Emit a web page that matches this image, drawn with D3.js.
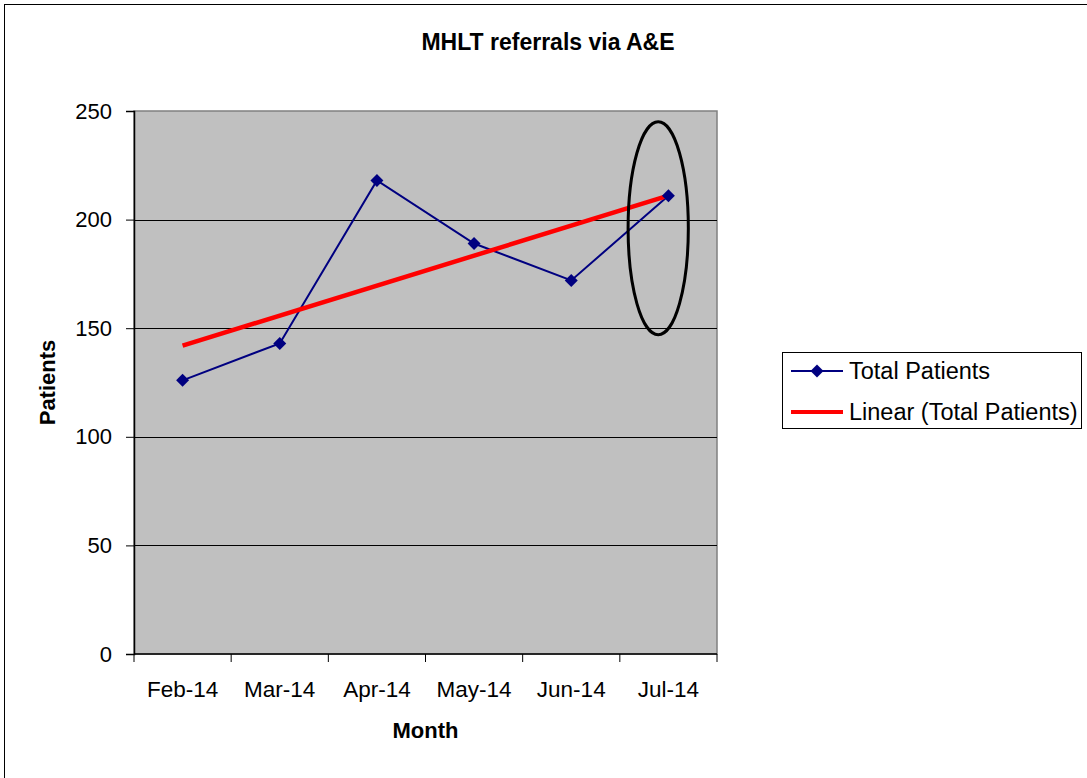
<!DOCTYPE html>
<html>
<head>
<meta charset="utf-8">
<script src="https://cdn.jsdelivr.net/npm/d3@7"></script>
<style>
  html, body { margin: 0; padding: 0; background: #fff; }
  svg { display: block; font-family: "Liberation Sans", Arial, sans-serif; }
</style>
</head>
<body>
<svg id="chart" width="1087" height="778"></svg>
<script>
const months = ["Feb-14", "Mar-14", "Apr-14", "May-14", "Jun-14", "Jul-14"];
const totalPatients = [126, 143, 218, 189, 172, 211];
const yTicks = [0, 50, 100, 150, 200, 250];
const titleText = "MHLT referrals via A&E";
const xTitle = "Month";
const yTitle = "Patients";
const legendLabels = ["Total Patients", "Linear (Total Patients)"];
// highlighted region (data units): month, centre value, half-height in patients
const highlight = { month: "Jul-14", value: 196, half: 49 };

const svg = d3.select("#chart");
const plot = { left: 134, right: 717, top: 111, bottom: 654 };

// outer chart frame
svg.append("rect").attr("x", 4.5).attr("y", 4.5).attr("width", 1090).attr("height", 780)
  .attr("fill", "#fff").attr("stroke", "#000").attr("stroke-width", 1);

const x = d3.scaleBand().domain(months).range([plot.left, plot.right]).padding(0);
const y = d3.scaleLinear().domain([0, 250]).range([plot.bottom, plot.top]);

// plot area
svg.append("rect").attr("x", plot.left).attr("y", plot.top)
  .attr("width", plot.right - plot.left).attr("height", plot.bottom - plot.top)
  .attr("fill", "#C0C0C0").attr("stroke", "#808080").attr("stroke-width", 1.5);

// gridlines
svg.append("g").selectAll("line").data(yTicks.filter(d => d > 0 && d < 250)).join("line")
  .attr("x1", plot.left).attr("x2", plot.right)
  .attr("y1", d => Math.round(y(d)) + 0.5).attr("y2", d => Math.round(y(d)) + 0.5)
  .attr("stroke", "#000").attr("stroke-width", 1);

// y axis
const yAxis = d3.axisLeft(y).tickValues(yTicks).tickSize(8).tickPadding(14);
const gy = svg.append("g").attr("transform", `translate(${plot.left},0)`).call(yAxis);
gy.select(".domain").attr("stroke", "#000").attr("stroke-width", 1.5);
gy.selectAll(".tick line").attr("stroke", "#000");
gy.selectAll(".tick text").attr("font-size", 22).attr("fill", "#000")
  .attr("font-family", "Liberation Sans, Arial, sans-serif");

// x axis: ticks at band boundaries, labels at band centres
const gx = svg.append("g").attr("transform", `translate(0,${plot.bottom})`);
gx.append("line").attr("x1", plot.left).attr("x2", plot.right).attr("y1", 0).attr("y2", 0)
  .attr("stroke", "#000").attr("stroke-width", 1.5);
const bounds = months.map(m => x(m)).concat([x(months[months.length - 1]) + x.bandwidth()]);
gx.selectAll("line.tk").data(bounds).join("line").attr("class", "tk")
  .attr("x1", d => d).attr("x2", d => d).attr("y1", 0).attr("y2", 8)
  .attr("stroke", "#000").attr("stroke-width", 1);
gx.selectAll("text").data(months).join("text")
  .attr("x", d => x(d) + x.bandwidth() / 2).attr("y", 43)
  .attr("text-anchor", "middle").attr("font-size", 22.5).attr("fill", "#000")
  .text(d => d);

const cx = d => x(d) + x.bandwidth() / 2;

// linear trendline (least squares on series)
const n = totalPatients.length;
const xs = d3.range(1, n + 1);
const mx = d3.mean(xs), my = d3.mean(totalPatients);
const slope = d3.sum(xs, (v, i) => (v - mx) * (totalPatients[i] - my)) / d3.sum(xs, v => (v - mx) ** 2);
const intercept = my - slope * mx;
const trend = months.map((m, i) => ({ m, v: intercept + slope * (i + 1) }));
const trendEnds = [trend[0], trend[n - 1]];

// series line
const line = d3.line().x(d => cx(d.m)).y(d => y(d.v));
const series = months.map((m, i) => ({ m, v: totalPatients[i] }));
svg.append("path").datum(series).attr("d", line)
  .attr("fill", "none").attr("stroke", "#000080").attr("stroke-width", 2);

// trend line
svg.append("path").datum(trendEnds).attr("d", line)
  .attr("fill", "none").attr("stroke", "#FF0000").attr("stroke-width", 4.5);

// markers
const diamond = d3.symbol().type(d3.symbolSquare).size(84);
svg.append("g").selectAll("path").data(series).join("path")
  .attr("d", diamond)
  .attr("transform", d => `translate(${cx(d.m)},${y(d.v)}) rotate(45)`)
  .attr("fill", "#000080");

// highlight ellipse
svg.append("ellipse")
  .attr("cx", cx(highlight.month) - 0.105 * x.step())
  .attr("cy", y(highlight.value))
  .attr("rx", 0.31 * x.step())
  .attr("ry", y(highlight.value - highlight.half) - y(highlight.value))
  .attr("fill", "none").attr("stroke", "#000").attr("stroke-width", 3);

// titles
svg.append("text").attr("x", 548).attr("y", 50).attr("text-anchor", "middle")
  .attr("font-size", 23).attr("font-weight", "bold").text(titleText);
svg.append("text").attr("x", (plot.left + plot.right) / 2).attr("y", 738).attr("text-anchor", "middle")
  .attr("font-size", 22).attr("font-weight", "bold").text(xTitle);
svg.append("text").attr("transform", `translate(55,${(plot.top + plot.bottom) / 2}) rotate(-90)`)
  .attr("text-anchor", "middle").attr("font-size", 22).attr("font-weight", "bold").text(yTitle);

// legend
const lg = svg.append("g");
lg.append("rect").attr("x", 782.5).attr("y", 352.5).attr("width", 299).attr("height", 76)
  .attr("fill", "#fff").attr("stroke", "#000").attr("stroke-width", 1);
const rows = [371, 412];
lg.append("line").attr("x1", 791).attr("x2", 843).attr("y1", rows[0]).attr("y2", rows[0])
  .attr("stroke", "#000080").attr("stroke-width", 2);
lg.append("path").attr("d", diamond).attr("transform", `translate(817,${rows[0]}) rotate(45)`)
  .attr("fill", "#000080");
lg.append("line").attr("x1", 791).attr("x2", 843).attr("y1", rows[1]).attr("y2", rows[1])
  .attr("stroke", "#FF0000").attr("stroke-width", 4);
lg.selectAll("text").data(legendLabels).join("text")
  .attr("x", 849).attr("y", (d, i) => rows[i]).attr("dy", "0.36em")
  .attr("font-size", 23.5).attr("fill", "#000").text(d => d);
</script>
</body>
</html>
